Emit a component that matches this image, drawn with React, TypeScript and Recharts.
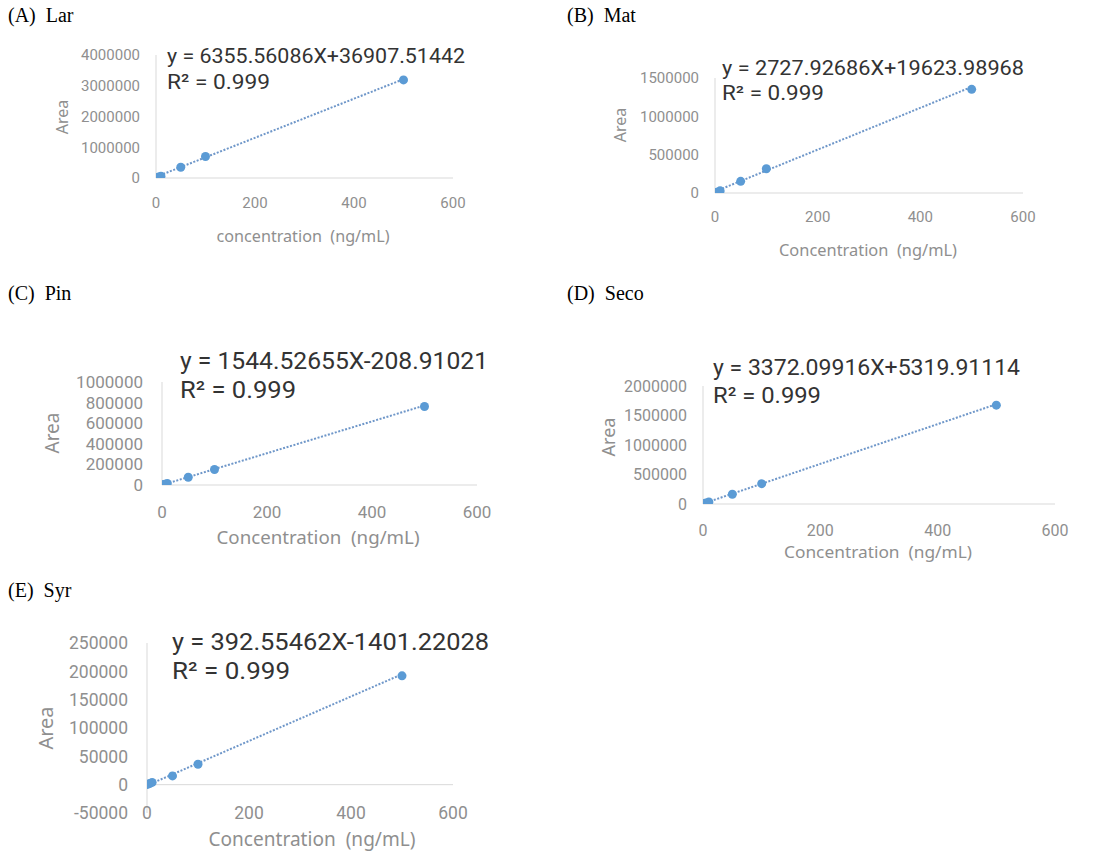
import React from 'react';
import { ScatterChart, Scatter, XAxis, YAxis, ReferenceLine, Customized } from 'recharts';

// ---- data ----
const concentration = [1, 5, 10, 50, 100, 500];
const areaLar = [6000, 32000, 60000, 350000, 700000, 3190000];
const areaMat = [3000, 14000, 28000, 152000, 317000, 1352000];
const areaPin = [1500, 7500, 15000, 75000, 150000, 762000];
const areaSeco = [4000, 17000, 35000, 165000, 345000, 1675000];
const areaSyr = [400, 2000, 4000, 15500, 36000, 192000];

const slopes = [6355.56086, 2727.92686, 1544.52655, 3372.09916, 392.55462];
const intercepts = [36907.51442, 19623.98968, -208.91021, 5319.91114, -1401.22028];
const equations = [
  'y = 6355.56086X+36907.51442',
  'y = 2727.92686X+19623.98968',
  'y = 1544.52655X-208.91021',
  'y = 3372.09916X+5319.91114',
  'y = 392.55462X-1401.22028',
];
const r2Text = 'R\u00b2 = 0.999';
const titles = ['(A)', '(B)', '(C)', '(D)', '(E)'];
const names = ['Lar', 'Mat', 'Pin', 'Seco', 'Syr'];
const xTitles = [
  'concentration\u00a0\u00a0(ng/mL)',
  'Concentration\u00a0\u00a0(ng/mL)',
  'Concentration\u00a0\u00a0(ng/mL)',
  'Concentration\u00a0\u00a0(ng/mL)',
  'Concentration\u00a0\u00a0(ng/mL)',
];
const xTicks = [0, 200, 400, 600];
const yTicksLar = [0, 1000000, 2000000, 3000000, 4000000];
const yTicksMat = [0, 500000, 1000000, 1500000];
const yTicksPin = [0, 200000, 400000, 600000, 800000, 1000000];
const yTicksSeco = [0, 500000, 1000000, 1500000, 2000000];
const yTicksSyr = [-50000, 0, 50000, 100000, 150000, 200000, 250000];

const areas = [areaLar, areaMat, areaPin, areaSeco, areaSyr];
const yTicks = [yTicksLar, yTicksMat, yTicksPin, yTicksSeco, yTicksSyr];

// ---- layout (page pixel positions) ----
type Layout = {
  x0: number; x600: number; yTop: number; yBot: number;
  tickFont: number; yTickRight: number; xTickCY: number;
  xTitleX: number; xTitleCY: number; xTitleFont: number; xTitleW: number;
  areaX: number; areaY: number; areaFont: number;
  eqX: number; eqY: number; r2Y: number; eqFont: number; eqW: number; r2W: number;
  titleX: number; titleY: number;
};

const layouts: Layout[] = [
  { x0: 156, x600: 453, yTop: 55, yBot: 178, tickFont: 15, yTickRight: 140, xTickCY: 203,
    xTitleX: 303, xTitleCY: 236, xTitleFont: 16, xTitleW: 173, areaX: 62, areaY: 117, areaFont: 16,
    eqX: 167, eqY: 63, r2Y: 89, eqFont: 21, eqW: 298, r2W: 103, titleX: 8, titleY: 23 },
  { x0: 715, x600: 1023, yTop: 78, yBot: 193, tickFont: 15, yTickRight: 699, xTickCY: 217,
    xTitleX: 868, xTitleCY: 250, xTitleFont: 16, xTitleW: 178, areaX: 620, areaY: 125, areaFont: 16,
    eqX: 722, eqY: 75, r2Y: 100, eqFont: 20, eqW: 302, r2W: 102, titleX: 567, titleY: 23 },
  { x0: 162, x600: 477, yTop: 382, yBot: 485, tickFont: 17, yTickRight: 143, xTickCY: 512,
    xTitleX: 318, xTitleCY: 537, xTitleFont: 18, xTitleW: 203, areaX: 52, areaY: 433, areaFont: 19,
    eqX: 180, eqY: 369, r2Y: 398, eqFont: 24, eqW: 308, r2W: 116, titleX: 8, titleY: 301 },
  { x0: 703, x600: 1055, yTop: 386, yBot: 504, tickFont: 16, yTickRight: 687, xTickCY: 530,
    xTitleX: 878, xTitleCY: 551, xTitleFont: 17, xTitleW: 188, areaX: 608, areaY: 437, areaFont: 18,
    eqX: 713, eqY: 375, r2Y: 403, eqFont: 22, eqW: 307, r2W: 108, titleX: 567, titleY: 301 },
  { x0: 147, x600: 453, yTop: 643, yBot: 813, tickFont: 17.5, yTickRight: 128, xTickCY: 813,
    xTitleX: 312, xTitleCY: 839, xTitleFont: 19, xTitleW: 207, areaX: 45, areaY: 728, areaFont: 20,
    eqX: 172, eqY: 650, r2Y: 679, eqFont: 24, eqW: 317, r2W: 118, titleX: 8, titleY: 598 },
];

const BLUE = '#5b9bd5';
const TREND = '#6f97c9';
const SANS = "'Noto Sans', 'Open Sans', sans-serif";
const COMPACT = "Roboto, 'Noto Sans', sans-serif";
const GRAY = '#8f8f8f';

const Dot = (props: any) => <circle cx={props.cx} cy={props.cy} r={4.5} fill={BLUE} />;
const NoDot = () => <g />;

function Panel({ idx }: { idx: number }) {
  const lay = layouts[idx];
  const ys = areas[idx];
  const ticks = yTicks[idx];
  const points = concentration.map((c, i) => ({ x: c, y: ys[i] }));
  const xFirst = concentration[0];
  const xLast = concentration[concentration.length - 1];
  const trend = [
    { x: xFirst, y: slopes[idx] * xFirst + intercepts[idx] },
    { x: xLast, y: slopes[idx] * xLast + intercepts[idx] },
  ];
  const yAxisW = 135;
  const L = lay.x0 - yAxisW;
  const topM = 75;
  const T = lay.yTop - topM;
  const rightM = 80;
  const W = lay.x600 - L + rightM;
  const xAxisH = 85;
  const H = lay.yBot - T + xAxisH;
  const xTickMargin = lay.xTickCY - lay.yBot - 0.35 * lay.tickFont;

  const overlay = () => (
    <g>
      <text
        x={lay.eqX - L}
        y={lay.eqY - T}
        fontFamily={COMPACT}
        fontSize={lay.eqFont}
        fill="#333"
        textLength={lay.eqW}
        lengthAdjust="spacingAndGlyphs"
      >
        {equations[idx]}
      </text>
      <text
        x={lay.eqX - L}
        y={lay.r2Y - T}
        fontFamily={COMPACT}
        fontSize={lay.eqFont}
        fill="#333"
        textLength={lay.r2W}
        lengthAdjust="spacingAndGlyphs"
      >
        {r2Text}
      </text>
      <text
        x={lay.areaX - L}
        y={lay.areaY - T}
        fontFamily={SANS}
        fontSize={lay.areaFont}
        fill={GRAY}
        textAnchor="middle"
        dominantBaseline="central"
        transform={`rotate(-90 ${lay.areaX - L} ${lay.areaY - T})`}
      >
        Area
      </text>
      <text
        x={lay.xTitleX - L}
        y={lay.xTitleCY - T}
        fontFamily={SANS}
        fontSize={lay.xTitleFont}
        fill={GRAY}
        textAnchor="middle"
        dominantBaseline="central"
        textLength={lay.xTitleW}
        lengthAdjust="spacingAndGlyphs"
      >
        {xTitles[idx]}
      </text>
    </g>
  );

  return (
    <>
      <div
        style={{
          position: 'absolute',
          left: lay.titleX,
          top: lay.titleY - 19,
          fontFamily: "'Liberation Serif', 'Times New Roman', serif",
          fontSize: 20,
          lineHeight: '23px',
          color: '#000',
          whiteSpace: 'pre',
        }}
      >
        {titles[idx]}{'\u2002'}{names[idx]}
      </div>
      <div style={{ position: 'absolute', left: L, top: T, width: W, height: H }}>
        <ScatterChart width={W} height={H} margin={{ top: topM, right: rightM, left: 0, bottom: 0 }}>
          <XAxis
            type="number"
            dataKey="x"
            domain={[0, 600]}
            ticks={xTicks}
            interval={0}
            height={xAxisH}
            axisLine={false}
            tickLine={false}
            tickSize={0}
            tickMargin={xTickMargin}
            tick={{ fontSize: lay.tickFont, fill: GRAY, fontFamily: COMPACT }}
            allowDataOverflow
          />
          <YAxis
            type="number"
            dataKey="y"
            domain={[ticks[0], ticks[ticks.length - 1]]}
            ticks={ticks}
            interval={0}
            width={yAxisW}
            axisLine={{ stroke: '#d9d9d9', strokeWidth: 1 }}
            tickLine={false}
            tickSize={0}
            tickMargin={lay.x0 - lay.yTickRight}
            tick={{ fontSize: lay.tickFont, fill: GRAY, fontFamily: COMPACT }}
            allowDataOverflow
          />
          <ReferenceLine y={0} stroke="#d9d9d9" strokeWidth={1} />
          <Scatter
            data={trend}
            line={{ stroke: TREND, strokeWidth: 2, strokeDasharray: '2 1.6' }}
            shape={NoDot}
            isAnimationActive={false}
          />
          <Scatter data={points} shape={Dot} isAnimationActive={false} />
          <Customized component={overlay} />
        </ScatterChart>
      </div>
    </>
  );
}

export default function App() {
  return (
    <div
      style={{
        position: 'absolute',
        left: 0,
        top: 0,
        width: 1102,
        height: 853,
        overflow: 'hidden',
        background: '#fff',
      }}
    >
      {[0, 1, 2, 3, 4].map((i) => (
        <Panel key={i} idx={i} />
      ))}
    </div>
  );
}
